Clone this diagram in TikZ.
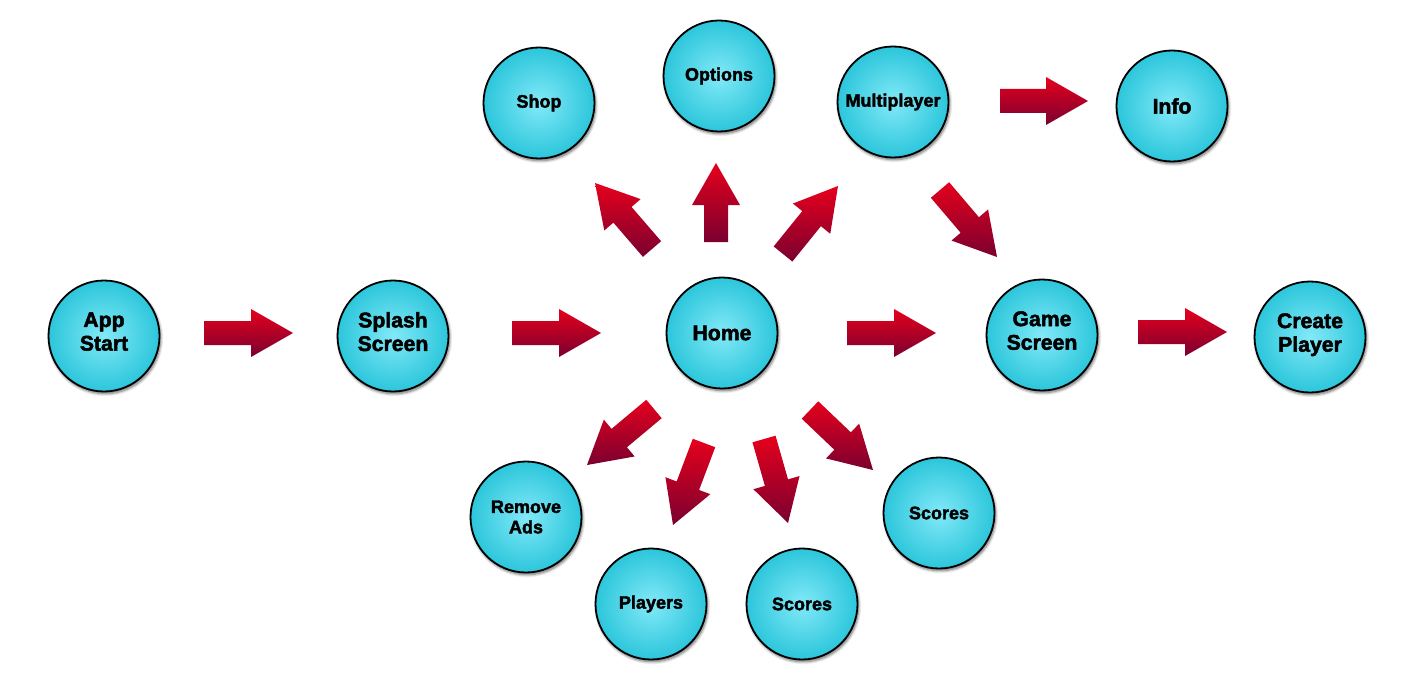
\documentclass[tikz,border=0pt]{standalone}
\usepackage{fontspec}
\setmainfont{Liberation Sans}[BoldFeatures={FakeBold=2.2}]
\usetikzlibrary{calc, shadows, shadows.blur}

\definecolor{screenin}{HTML}{82E9F8}
\definecolor{screenout}{HTML}{2CC6DB}
\definecolor{arrowtop}{HTML}{E6001C}
\definecolor{arrowmid}{HTML}{D2001F}
\definecolor{arrowbot}{HTML}{7A0030}

\tikzset{
  screen/.style={circle, draw=black, line width=0.9pt, minimum size=55.5pt,
    inner sep=0pt, align=center, inner color=screenin, outer color=screenout,
    font=\bfseries\fontsize{10.6}{11.8}\selectfont,
    blur shadow={shadow xshift=0.6pt, shadow yshift=-1.1pt,
      shadow blur radius=1.4pt, shadow blur steps=6, shadow opacity=60}},
  smallscreen/.style={screen, font=\bfseries\fontsize{9}{10.2}\selectfont},
  twoline/.style={text depth=4.5pt},
  bigarrow/.style={top color=arrowtop, middle color=arrowmid, bottom color=arrowbot,
    to path={($(\tikztostart)!6pt!90:(\tikztotarget)$)
      -- ($(\tikztotarget)!21pt!(\tikztostart)!6pt!-90:(\tikztostart)$)
      -- ($(\tikztotarget)!21pt!(\tikztostart)!12pt!-90:(\tikztostart)$)
      -- (\tikztotarget)
      -- ($(\tikztotarget)!21pt!(\tikztostart)!12pt!90:(\tikztostart)$)
      -- ($(\tikztotarget)!21pt!(\tikztostart)!6pt!90:(\tikztostart)$)
      -- ($(\tikztostart)!6pt!-90:(\tikztotarget)$) -- cycle}}
}

\begin{document}
\begin{tikzpicture}[x=0.5pt, y=-0.5pt]
  \useasboundingbox (0,0) rectangle (1416,695);

  % main row
  \node[screen, twoline] (appstart) at (104,336) {App\\Start};
  \node[screen, twoline] (splash) at (393,336) {Splash\\Screen};
  \node[screen] (home) at (722,333) {Home};
  \node[screen, twoline] (game) at (1042,335) {Game\\Screen};
  \node[screen, twoline] (create) at (1310,337) {Create\\Player};

  % top row
  \node[smallscreen] (shop) at (539,103) {Shop};
  \node[smallscreen] (options) at (719,76) {Options};
  \node[smallscreen] (multi) at (893,102) {Multiplayer};
  \node[screen] (info) at (1172,106) {Info};

  % bottom row
  \node[smallscreen] (ads) at (526,517) {Remove\\Ads};
  \node[smallscreen] (players) at (651,604) {Players};
  \node[smallscreen] (scoresa) at (802,604) {Scores};
  \node[smallscreen] (scoresb) at (939,513) {Scores};

  % arrow ends (t = tail, h = head)
  \coordinate (splash-t) at (204,333);   \coordinate (splash-h) at (293,333);
  \coordinate (home-t) at (512,333);     \coordinate (home-h) at (601,333);
  \coordinate (game-t) at (847,333);     \coordinate (game-h) at (936,333);
  \coordinate (create-t) at (1138,332);  \coordinate (create-h) at (1227,332);
  \coordinate (info-t) at (1000,101);    \coordinate (info-h) at (1088,101);
  \coordinate (shop-t) at (652,249);     \coordinate (shop-h) at (595,183);
  \coordinate (options-t) at (716,242);  \coordinate (options-h) at (716,163);
  \coordinate (multi-t) at (783,254);    \coordinate (multi-h) at (838,186);
  \coordinate (game2-t) at (940,190);    \coordinate (game2-h) at (997,257);
  \coordinate (ads-t) at (654,409);      \coordinate (ads-h) at (587,465);
  \coordinate (players-t) at (704,443);  \coordinate (players-h) at (673,525);
  \coordinate (scoresa-t) at (764,439);  \coordinate (scoresa-h) at (788,523);
  \coordinate (scoresb-t) at (810,410);  \coordinate (scoresb-h) at (873,470);

  % block arrows
  \foreach \n in {splash,home,game,create,info,shop,options,multi,game2,ads,players,scoresa,scoresb}
    \path[bigarrow] (\n-t) to (\n-h);
\end{tikzpicture}
\end{document}
